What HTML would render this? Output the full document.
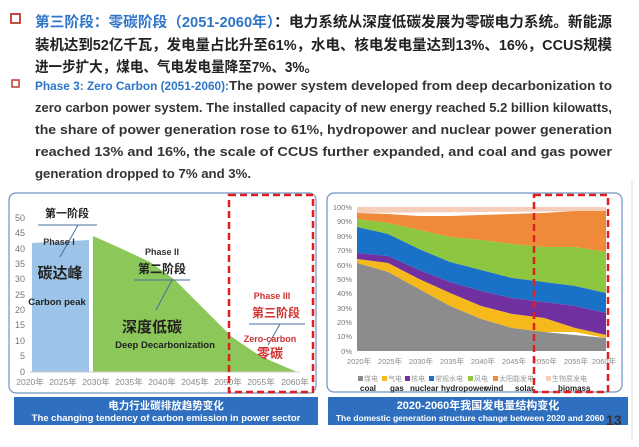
<!DOCTYPE html>
<html><head><meta charset="utf-8"><style>
body{margin:0;width:639px;height:447px;background:#fff;overflow:hidden;font-family:"Liberation Sans","Noto Sans CJK SC",sans-serif}
svg{position:absolute;left:0;top:0}
</style></head><body>
<svg width="639" height="447" viewBox="0 0 639 447" font-family="Liberation Sans, Noto Sans CJK SC, sans-serif">
<rect x="11" y="14" width="9" height="9" fill="none" stroke="#c0392b" stroke-width="1.8"/>
<rect x="12" y="80" width="7" height="7" fill="none" stroke="#c0392b" stroke-width="1.5"/>
<g font-size="14.5" font-weight="bold" fill="#222">
<text x="35" y="27" textLength="577" lengthAdjust="spacingAndGlyphs"><tspan fill="#2e75c8">第三阶段：零碳阶段（2051-2060年）</tspan>：电力系统从深度低碳发展为零碳电力系统。新能源</text>
<text x="35" y="50" textLength="577" lengthAdjust="spacingAndGlyphs">装机达到52亿千瓦，发电量占比升至61%，水电、核电发电量达到13%、16%，CCUS规模</text>
<text x="35" y="72" textLength="283" lengthAdjust="spacingAndGlyphs">进一步扩大，煤电、气电发电量降至7%、3%。</text>
</g>
<g font-size="13.2" font-weight="bold" fill="#333">
<text x="35" y="90" textLength="577" lengthAdjust="spacingAndGlyphs"><tspan fill="#2e75c8" font-size="11.5">Phase 3: Zero Carbon (2051-2060):</tspan>The power system developed from deep decarbonization to</text>
<text x="35" y="112" textLength="577" lengthAdjust="spacingAndGlyphs">zero carbon power system. The installed capacity of new energy reached 5.2 billion kilowatts,</text>
<text x="35" y="134" textLength="577" lengthAdjust="spacingAndGlyphs">the share of power generation rose to 61%, hydropower and nuclear power generation</text>
<text x="35" y="156" textLength="577" lengthAdjust="spacingAndGlyphs">reached 13% and 16%, the scale of CCUS further expanded, and coal and gas power</text>
<text x="35" y="178" textLength="216" lengthAdjust="spacingAndGlyphs">generation dropped to 7% and 3%.</text>
</g>

<rect x="9" y="193" width="307" height="200" rx="7" fill="#fff" stroke="#6f93c4" stroke-width="1.2"/>
<g font-size="9" fill="#777" text-anchor="end">
<text x="25" y="221">50</text><text x="25" y="236">45</text><text x="25" y="252">40</text><text x="25" y="267">35</text><text x="25" y="282">30</text><text x="25" y="298">25</text><text x="25" y="313">20</text><text x="25" y="328">15</text><text x="25" y="344">10</text><text x="25" y="359">5</text><text x="25" y="375">0</text>
</g>
<polygon points="32,372 32,243 89,240 89,372" fill="#9cc3e8"/>
<polygon points="93,372 93,236 120,248 150,262 175,280 200,305 232,337 260,356 297,372" fill="#8cc75a"/>
<line x1="30" y1="372" x2="300" y2="372" stroke="#ccc"/>
<g font-size="8.5" fill="#888" text-anchor="middle">
<text x="30" y="385">2020年</text><text x="63" y="385">2025年</text><text x="96" y="385">2030年</text><text x="129" y="385">2035年</text><text x="162" y="385">2040年</text><text x="195" y="385">2045年</text><text x="228" y="385">2050年</text><text x="261" y="385">2055年</text><text x="295" y="385">2060年</text>
</g>
<g font-weight="bold" text-anchor="middle">
<text x="67" y="217" font-size="11" fill="#222">第一阶段</text>
<line x1="38" y1="225" x2="97" y2="225" stroke="#4a6fa0"/>
<line x1="78" y1="225" x2="60" y2="257" stroke="#4a6fa0"/>
<text x="59" y="245" font-size="9" fill="#333">Phase I</text>
<text x="60" y="278" font-size="15" fill="#222">碳达峰</text>
<text x="57" y="305" font-size="9.5" fill="#222">Carbon peak</text>
<text x="162" y="255" font-size="9" fill="#333">Phase II</text>
<text x="162" y="273" font-size="12" fill="#222">第二阶段</text>
<line x1="134" y1="280" x2="190" y2="280" stroke="#4a6fa0"/>
<line x1="172" y1="280" x2="156" y2="310" stroke="#4a6fa0"/>
<text x="152" y="332" font-size="15" fill="#222">深度低碳</text>
<text x="165" y="348" font-size="9.5" fill="#222">Deep Decarbonization</text>
<text x="272" y="299" font-size="9" fill="#d03030">Phase III</text>
<text x="276" y="317" font-size="12" fill="#d03030">第三阶段</text>
<line x1="249" y1="324" x2="305" y2="324" stroke="#4a6fa0"/>
<line x1="280" y1="324" x2="268" y2="345" stroke="#4a6fa0"/>
<text x="270" y="342" font-size="9" fill="#d03030">Zero-carbon</text>
<text x="270" y="358" font-size="13" fill="#d03030">零碳</text>
</g>
<rect x="229" y="195" width="84" height="197" fill="none" stroke="#e02020" stroke-width="2.5" stroke-dasharray="7,4"/>
<rect x="14" y="397" width="304" height="28" fill="#2f6fbf"/>
<text x="166" y="409" font-size="10.5" font-weight="bold" fill="#fff" text-anchor="middle">电力行业碳排放趋势变化</text>
<text x="166" y="421" font-size="9.5" font-weight="bold" fill="#fff" text-anchor="middle">The changing tendency of carbon emission in power sector</text>

<rect x="327" y="193" width="295" height="199" rx="7" fill="#fff" stroke="#6f93c4" stroke-width="1.2"/>
<g font-size="7.5" fill="#777" text-anchor="end">
<text x="352" y="210">100%</text><text x="352" y="224">90%</text><text x="352" y="239">80%</text><text x="352" y="253">70%</text><text x="352" y="268">60%</text><text x="352" y="282">50%</text><text x="352" y="296">40%</text><text x="352" y="311">30%</text><text x="352" y="325">20%</text><text x="352" y="339">10%</text><text x="352" y="354">0%</text>
</g>
<polygon fill="#f6cdb8" points="357,207 606,207 606,211 357,213"/>
<polygon fill="#ef8a3a" points="357,213 388,214 419,216 450,216 481,215 512,214 544,213 575,211 606,211 606,252 575,247 544,247 512,244 481,240 450,237 419,230 388,223 357,219"/>
<polygon fill="#8dc63f" points="357,219 388,223 419,230 450,237 481,240 512,244 544,247 575,247 606,252 606,293 575,286 544,282 512,278 481,270 450,262 419,249 388,234 357,227"/>
<polygon fill="#1a72c8" points="357,227 388,234 419,249 450,262 481,270 512,278 544,282 575,286 606,293 606,313 575,306 544,302 512,298 481,291 450,282 419,270 388,256 357,253"/>
<polygon fill="#7030a0" points="357,253 388,256 419,270 450,282 481,291 512,298 544,302 575,306 606,313 606,335 575,328 544,318 512,314 481,306 450,293 419,279 388,263 357,259"/>
<polygon fill="#f5b91b" points="357,259 388,263 419,279 450,293 481,306 512,314 544,318 575,328 606,335 606,338 575,332 544,332 512,328 481,319 450,306 419,289 388,272 357,263"/>
<polygon fill="#8c8c8c" points="357,263 388,272 419,289 450,306 481,319 512,328 544,332 575,335 606,338 606,351 357,351"/>
<g font-size="7.5" fill="#888" text-anchor="middle">
<text x="359" y="364">2020年</text><text x="390" y="364">2025年</text><text x="421" y="364">2030年</text><text x="452" y="364">2035年</text><text x="483" y="364">2040年</text><text x="514" y="364">2045年</text><text x="545" y="364">2050年</text><text x="576" y="364">2055年</text><text x="604" y="364">2060年</text>
</g>
<g font-size="7" fill="#999">
<rect x="358" y="376" width="5" height="5" fill="#8c8c8c"/><text x="364" y="381">煤电</text>
<rect x="382" y="376" width="5" height="5" fill="#f5b91b"/><text x="388" y="381">气电</text>
<rect x="405" y="376" width="5" height="5" fill="#7030a0"/><text x="411" y="381">核电</text>
<rect x="429" y="376" width="5" height="5" fill="#1a72c8"/><text x="435" y="381">常规水电</text>
<rect x="468" y="376" width="5" height="5" fill="#8dc63f"/><text x="474" y="381">风电</text>
<rect x="493" y="376" width="5" height="5" fill="#ef8a3a"/><text x="499" y="381">太阳能发电</text>
<rect x="546" y="376" width="5" height="5" fill="#f6cdb8"/><text x="552" y="381">生物质发电</text>
</g>
<g font-size="8" font-weight="bold" fill="#222">
<text x="360" y="391">coal</text><text x="390" y="391">gas</text><text x="410" y="391">nuclear</text><text x="441" y="391">hydropower</text><text x="485" y="391">wind</text><text x="515" y="391">solar</text><text x="558" y="391">biomass</text>
</g>
<rect x="534" y="195" width="74" height="197" fill="none" stroke="#e02020" stroke-width="2.5" stroke-dasharray="7,4"/>
<rect x="328" y="397" width="300" height="28" fill="#2f6fbf"/>
<text x="478" y="409" font-size="11" font-weight="bold" fill="#fff" text-anchor="middle">2020-2060年我国发电量结构变化</text>
<text x="470" y="421" font-size="8.5" font-weight="bold" fill="#fff" text-anchor="middle">The domestic generation structure change between 2020 and 2060</text>
<text x="606" y="425" font-size="14" font-weight="bold" fill="#333">13</text>
<line x1="632" y1="180" x2="632" y2="440" stroke="#ddd"/>
</svg>
</body></html>
